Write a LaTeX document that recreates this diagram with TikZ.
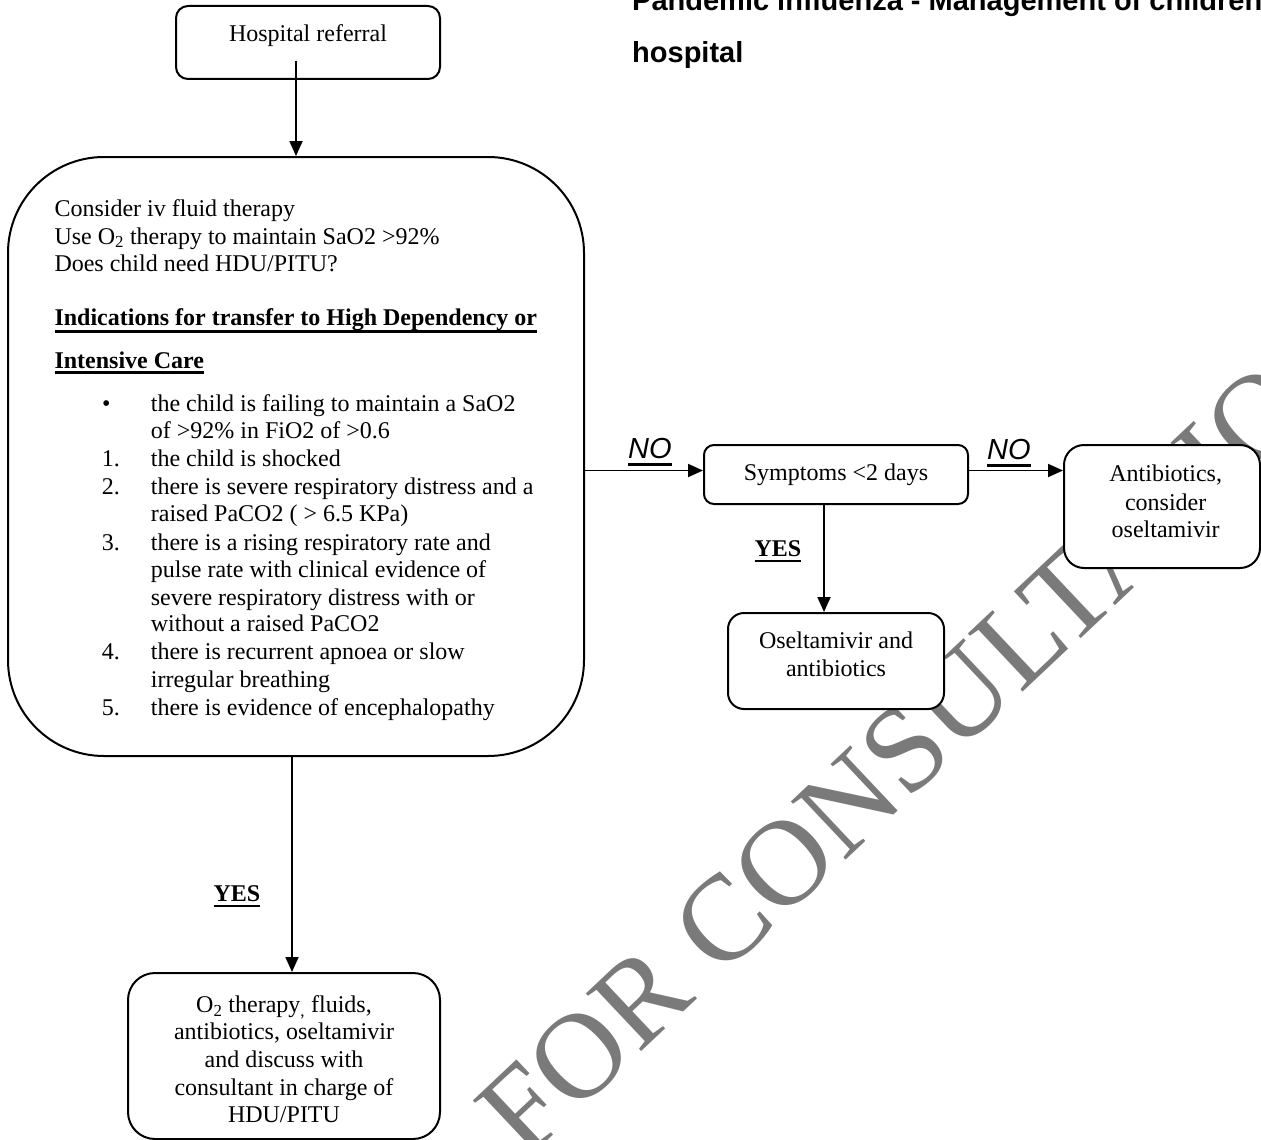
\documentclass[tikz,border=0pt]{standalone}
\usepackage{fontspec}
\setmainfont{Liberation Serif}
\newfontfamily\arialf{Liberation Sans}
\usetikzlibrary{arrows.meta}
\newcommand\myul[2][6pt]{\setbox0\hbox{#2}\rlap{\rule[-#1]{\wd0}{2.6pt}}\box0}
\begin{document}
\begin{tikzpicture}[x=1pt,y=-1pt,
  box/.style={draw, line width=2pt, fill=white, inner sep=0pt},
  arr/.style={line width=1.8pt, -{Triangle[length=15pt,width=13pt]}},
  ln/.style={anchor=base west, inner sep=0pt, font=\fontsize{24}{27.6}\selectfont},
  cl/.style={anchor=base, inner sep=0pt, font=\fontsize{24}{27.6}\selectfont},
  lab/.style={anchor=base west, inner sep=0pt},
  nolab/.style={lab, font=\arialf\itshape\fontsize{29}{29}\selectfont},
  yeslab/.style={lab, font=\bfseries\fontsize{24}{24}\selectfont},
  ttl/.style={lab, font=\arialf\bfseries\fontsize{29}{29}\selectfont}
]
\useasboundingbox (0,0) rectangle (1261,1140);
\clip (0,0) rectangle (1261,1140);

% watermark
\node[anchor=base west, inner sep=0pt, rotate=43.3, text=black!52,
      font=\fontsize{122}{122}\selectfont] (wm) at (525,1162) {FOR CONSULTATION};

% title
\node[ttl] (ti1) at (632,11) {Pandemic influenza - Management of children};
\node[ttl] (ti2) at (632,63) {hospital};

% boxes
\node[box, rounded corners=12pt, minimum width=264pt, minimum height=73pt] (ref) at (308,42.5) {};
\node[box, rounded corners=96pt, minimum width=576pt, minimum height=599pt] (main) at (296,456.5) {};
\node[box, rounded corners=10pt, minimum width=264pt, minimum height=59pt] (symp) at (836,474.5) {};
\node[box, rounded corners=20pt, minimum width=196pt, minimum height=123pt] (anti) at (1162,506.5) {};
\node[box, rounded corners=16pt, minimum width=216pt, minimum height=96pt] (osel) at (836,661) {};
\node[box, rounded corners=27pt, minimum width=312pt, minimum height=166pt] (hdu) at (284,1056) {};

% box texts
\node[cl] (t0) at (308,41.7) {Hospital referral};

\node[ln] (m1) at (54.3,216.7) {Consider iv fluid therapy};
\node[ln] (m2) at (54.3,244) {Use O\textsubscript{2} therapy to maintain SaO2 >92\%};
\node[ln] (m3) at (54.3,271.7) {Does child need HDU/PITU?};
\node[ln] (m4) at (54.3,325.7) {\myul[7pt]{\bfseries Indications for transfer to High Dependency or}};
\node[ln] (m5) at (54.3,368) {\myul[6pt]{\bfseries Intensive Care}};

\node[ln] (b0) at (102,411.7) {\textbullet};
\node[ln] (i0a) at (150.7,411.7) {the child is failing to maintain a SaO2};
\node[ln] (i0b) at (150.7,438.3) {of >92\% in FiO2 of >0.6};
\node[ln] (n1) at (101.7,466.7) {1.};
\node[ln] (i1a) at (150.7,466.7) {the child is shocked};
\node[ln] (n2) at (101.7,494) {2.};
\node[ln] (i2a) at (150.7,494) {there is severe respiratory distress and a};
\node[ln] (i2b) at (150.7,521.7) {raised PaCO2 ( > 6.5 KPa)};
\node[ln] (n3) at (101.7,550) {3.};
\node[ln] (i3a) at (150.7,550) {there is a rising respiratory rate and};
\node[ln] (i3b) at (150.7,577) {pulse rate with clinical evidence of};
\node[ln] (i3c) at (150.7,605) {severe respiratory distress with or};
\node[ln] (i3d) at (150.7,631.7) {without a raised PaCO2};
\node[ln] (n4) at (101.7,659) {4.};
\node[ln] (i4a) at (150.7,659) {there is recurrent apnoea or slow};
\node[ln] (i4b) at (150.7,687) {irregular breathing};
\node[ln] (n5) at (101.7,715) {5.};
\node[ln] (i5a) at (150.7,715) {there is evidence of encephalopathy};

\node[cl] (st) at (836,480) {Symptoms <2 days};

\node[cl] (a1) at (1165.7,481.7) {Antibiotics,};
\node[cl] (a2) at (1165.7,510) {consider};
\node[cl] (a3) at (1165.7,537.7) {oseltamivir};

\node[cl] (o1) at (836,648.3) {Oseltamivir and};
\node[cl] (o2) at (836,676.7) {antibiotics};

\node[cl] (h1) at (284,1012.3) {O\textsubscript{2} therapy\textsubscript{,} fluids,};
\node[cl] (h2) at (284,1039.3) {antibiotics, oseltamivir};
\node[cl] (h3) at (284,1067.3) {and discuss with};
\node[cl] (h4) at (284,1095) {consultant in charge of};
\node[cl] (h5) at (284,1122.7) {HDU/PITU};

% connectors
\path (ref.south -| main.north) coordinate (c0);
\draw[arr] ([yshift=19pt]c0) -- (main.north);
\path ([yshift=4pt]symp.west) coordinate (c1);
\draw[arr] (c1 -| main.east) -- (c1);
\path ([yshift=4pt]symp.east) coordinate (c2);
\draw[arr] (c2) -- (c2 -| anti.west);
\path ([xshift=-12pt]symp.south) coordinate (c3);
\draw[arr] (c3) -- (c3 |- osel.north);
\path ([xshift=-4pt]main.south) coordinate (c4);
\draw[arr] (c4) -- (c4 |- hdu.north);

% labels
\node[nolab] (no1) at (628,458) {\myul[8pt]{NO}};
\node[nolab] (no2) at (987,459) {\myul[8pt]{NO}};
\node[yeslab] (yes1) at (754.3,556.7) {\myul[5.5pt]{YES}};
\node[yeslab] (yes2) at (213.3,901.7) {\myul[5.5pt]{YES}};
\end{tikzpicture}
\end{document}
